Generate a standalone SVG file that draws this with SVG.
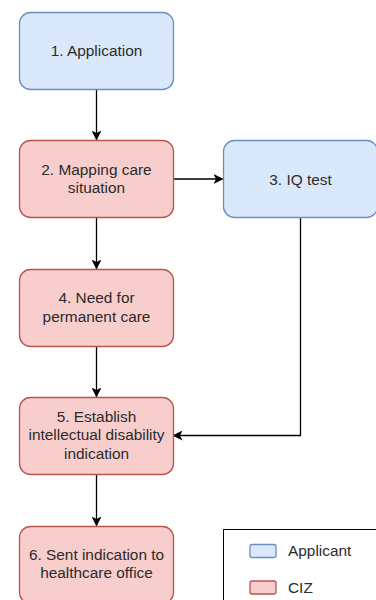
<svg xmlns="http://www.w3.org/2000/svg" width="376" height="600" viewBox="0 0 376 600">
<style>
.blue{fill:#dae8fc;stroke:#6c8ebf;stroke-width:1.3}
.red{fill:#f8cecc;stroke:#b85450;stroke-width:1.3}
text{font-family:"Liberation Sans",Arial,sans-serif;font-size:15.4px;fill:#2b2b2b;text-anchor:middle}
.edge{fill:none;stroke:#000;stroke-width:1.3}
</style>
<defs>
<marker id="arr" viewBox="0 0 10 10" refX="9" refY="5" markerWidth="10" markerHeight="10" markerUnits="userSpaceOnUse" orient="auto">
<path d="M0,0 L10,5 L0,10 L2.5,5 Z" fill="#000"/>
</marker>
</defs>
<rect width="376" height="600" fill="#fff"/>
<g id="connectors">
<path class="edge" d="M96.5,89.5 V139.5" marker-end="url(#arr)"/>
<path class="edge" d="M173.5,179 H222.5" marker-end="url(#arr)"/>
<path class="edge" d="M96.5,217.5 V268.5" marker-end="url(#arr)"/>
<path class="edge" d="M96.5,346.5 V396.5" marker-end="url(#arr)"/>
<path class="edge" d="M300.5,217.5 V435.5 H173.5" marker-end="url(#arr)"/>
<path class="edge" d="M96.5,474.5 V525.5" marker-end="url(#arr)"/>
</g>
<g id="n1">
<rect class="blue" x="19.5" y="12.5" width="154" height="77" rx="11"/>
<text x="96.5" y="55.5">1. Application</text>
</g>
<g id="n2">
<rect class="red" x="19.5" y="140.5" width="154" height="77" rx="11"/>
<text x="96.5" y="175">2. Mapping care</text>
<text x="96.5" y="193">situation</text>
</g>
<g id="n3">
<rect class="blue" x="223.5" y="140.5" width="154" height="77" rx="11"/>
<text x="300.5" y="184.5">3. IQ test</text>
</g>
<g id="n4">
<rect class="red" x="19.5" y="269.5" width="154" height="77" rx="11"/>
<text x="96.5" y="303">4. Need for</text>
<text x="96.5" y="321.5">permanent care</text>
</g>
<g id="n5">
<rect class="red" x="19.5" y="397.5" width="154" height="77" rx="11"/>
<text x="96.5" y="422">5. Establish</text>
<text x="96.5" y="440">intellectual disability</text>
<text x="96.5" y="458.5">indication</text>
</g>
<g id="n6">
<rect class="red" x="19.5" y="526.5" width="154" height="77" rx="11"/>
<text x="96.5" y="559.5">6. Sent indication to</text>
<text x="96.5" y="578">healthcare office</text>
</g>
<g id="legend">
<rect x="223.5" y="529.5" width="160" height="80" fill="#fff" stroke="#000" stroke-width="1"/>
<rect class="blue" x="250" y="544.5" width="26" height="13" rx="2"/>
<text x="288" y="556" style="text-anchor:start">Applicant</text>
<rect class="red" x="250" y="581" width="26" height="13" rx="2"/>
<text x="288" y="592.5" style="text-anchor:start">CIZ</text>
</g>
</svg>
